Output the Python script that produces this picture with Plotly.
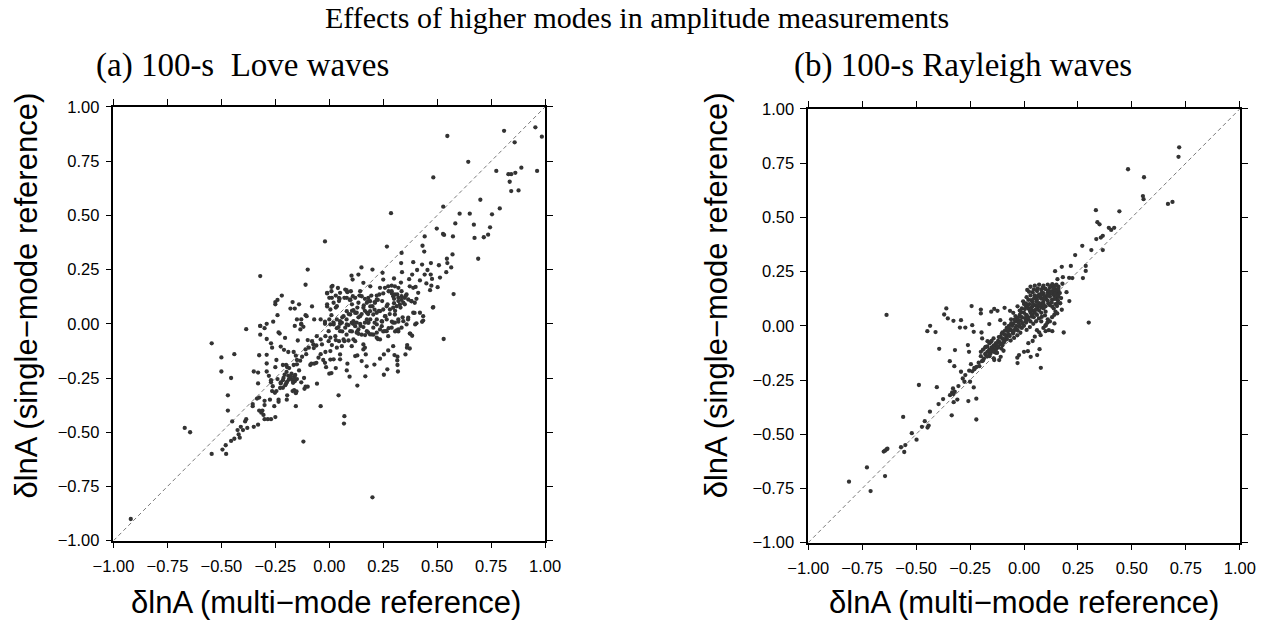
import plotly.graph_objects as go

# ---------------- data ----------------
tick_vals = [-1.0, -0.75, -0.5, -0.25, 0.0, 0.25, 0.5, 0.75, 1.0]
tick_text = ["\u22121.00", "\u22120.75", "\u22120.50", "\u22120.25", "0.00", "0.25", "0.50", "0.75", "1.00"]

# (a) Love waves: (multi-mode dlnA, single-mode dlnA)
love_ul = [(-0.02,0.38),(-0.32,0.22),(-0.10,0.25),(-0.11,0.18),(-0.01,0.14),(0.00,0.12),(0.01,0.17),
           (-0.22,0.13),(-0.24,0.11),(-0.25,0.09),(-0.17,0.10),(-0.14,0.09),(-0.18,0.07),(-0.16,0.07),
           (-0.08,0.08),(-0.01,0.09),(-0.01,0.08),(-0.24,0.04),(-0.26,0.01),(-0.32,-0.01),(-0.29,0.00),
           (-0.15,0.02),(-0.13,0.02),(-0.11,0.04),(-0.13,0.00),(-0.07,0.02),(-0.04,0.02),(-0.02,0.01),
           (0.00,0.02),(-0.02,0.00),(0.01,0.04),(-0.105,0.035),(-0.25,0.10)]
love_ll = [(-0.92,-0.90),(-0.67,-0.48),(-0.645,-0.50),(-0.545,-0.09),(-0.545,-0.60),(-0.50,-0.155),
           (-0.50,-0.22),(-0.495,-0.58),(-0.478,-0.60),(-0.48,-0.56),(-0.47,-0.33),(-0.47,-0.40),
           (-0.455,-0.25),(-0.455,-0.54),(-0.44,-0.53),(-0.44,-0.14),(-0.45,-0.45),(-0.425,-0.49),
           (-0.42,-0.51),(-0.415,-0.525),(-0.41,-0.475),(-0.39,-0.45),(-0.385,-0.44),(-0.38,-0.48),
           (-0.40,-0.49),(-0.385,-0.025),(-0.35,-0.475),(-0.33,-0.465),(-0.355,-0.37),(-0.355,-0.38),
           (-0.335,-0.345),(-0.325,-0.34),(-0.33,-0.275),(-0.35,-0.22),(-0.33,-0.225),(-0.325,-0.40),
           (-0.315,-0.41),(-0.31,-0.40),(-0.30,-0.375),(-0.305,-0.42),(-0.30,-0.44),(-0.30,-0.355),
           (-0.325,-0.145),(-0.32,-0.01),(-0.32,-0.05),(-0.29,-0.143),(-0.29,-0.183),(-0.28,-0.24),
           (-0.29,-0.22),(-0.27,-0.27),(-0.27,-0.26),(-0.285,-0.44),(-0.27,-0.44),(-0.25,-0.43),
           (-0.255,-0.38),(-0.235,-0.35),(-0.235,-0.36),(-0.275,-0.35),(-0.265,-0.31),(-0.245,-0.31),
           (-0.25,-0.20),(-0.245,-0.167),(-0.29,-0.07),(-0.30,-0.02),(-0.27,-0.09),(-0.265,-0.11),
           (-0.235,-0.04),(-0.23,-0.045),(-0.225,-0.105),(-0.21,-0.12),(-0.205,-0.065),(-0.19,-0.13),
           (-0.215,-0.19),(-0.20,-0.19),(-0.195,-0.20),(-0.175,-0.23),(-0.19,-0.24),(-0.18,-0.25),
           (-0.17,-0.26),(-0.16,-0.24),(-0.16,-0.265),(-0.15,-0.255),(-0.20,-0.275),(-0.225,-0.275),
           (-0.215,-0.26),(-0.215,-0.295),(-0.195,-0.33),(-0.197,-0.35),(-0.155,-0.32),(-0.17,-0.31),
           (-0.155,-0.38),(-0.13,-0.27),(-0.11,-0.29),(-0.115,-0.30),(-0.10,-0.29),(-0.117,-0.25),
           (-0.155,-0.147),(-0.165,-0.13),(-0.15,-0.167),(-0.135,-0.17),(-0.15,-0.187),(-0.14,-0.215),
           (-0.165,-0.19),(-0.126,-0.152),(-0.11,-0.118),(-0.107,-0.14),(-0.095,-0.11),(-0.10,-0.075),
           (-0.08,-0.08),(-0.074,-0.095),(-0.06,-0.10),(-0.072,-0.112),(-0.083,-0.184),(-0.088,-0.19),
           (-0.07,-0.184),(-0.06,-0.18),(-0.057,-0.276),(-0.04,-0.38),(-0.12,-0.543),(-0.05,-0.156),
           (-0.028,-0.167),(-0.02,-0.18),(-0.015,-0.20),(0.00,-0.23),(-0.018,-0.13),(0.005,-0.165),
           (-0.04,-0.14),(-0.034,-0.095),(-0.04,-0.072),(-0.018,-0.057),(-0.058,-0.057),(-0.134,-0.026),
           (-0.12,-0.014),(-0.13,-0.003),(-0.16,-0.01),(-0.146,-0.077)]
love_ll2 = [(-0.24,-0.255),(-0.225,-0.27),(-0.212,-0.25),(-0.207,-0.235),(-0.198,-0.222),(-0.186,-0.204),
            (-0.188,-0.258),(-0.178,-0.243),(-0.168,-0.272),(-0.163,-0.252),(-0.158,-0.236),
            (-0.196,-0.268),(-0.204,-0.283),(-0.163,-0.306),(-0.152,-0.312),(-0.228,-0.296),
            (-0.252,-0.318),(-0.262,-0.288)]
love_ur = [(0.547,0.866),(0.81,0.89),(0.955,0.906),(0.985,0.863),(0.859,0.837),(0.644,0.747),
           (0.482,0.675),(0.774,0.705),(0.89,0.72),(0.83,0.69),(0.843,0.69),(0.862,0.696),(0.963,0.705),
           (0.836,0.655),(0.843,0.612),(0.877,0.615),(0.70,0.572),(0.79,0.532),(0.528,0.54),(0.286,0.51),
           (0.604,0.508),(0.651,0.508),(0.754,0.505),(0.584,0.463),(0.67,0.457),(0.745,0.445),
           (0.498,0.439),(0.527,0.414),(0.532,0.41),(0.573,0.403),(0.673,0.396),(0.716,0.399),
           (0.736,0.411),(0.442,0.403),(0.267,0.356),(0.432,0.36),(0.44,0.333),(0.335,0.327),
           (0.571,0.32),(0.545,0.30),(0.69,0.30),(0.333,0.28),(0.389,0.284),(0.43,0.273),(0.471,0.28),
           (0.508,0.27),(0.547,0.28),(0.565,0.26),(0.542,0.238),(0.149,0.26),(0.20,0.25),(0.337,0.238),
           (0.407,0.248),(0.455,0.248),(0.384,0.227),(0.442,0.227),(0.47,0.227),(0.513,0.213),
           (0.103,0.222),(0.108,0.204),(0.135,0.227),(0.247,0.235),(0.25,0.204),(0.30,0.209),
           (0.332,0.19),(0.37,0.206),(0.42,0.20),(0.476,0.207),(0.45,0.186),(0.473,0.176),(0.40,0.17),
           (0.502,0.169),(0.467,0.155),(0.576,0.137),(0.482,0.077),(0.158,0.189),(0.19,0.173)]
love_core = [(-0.01,0.143),(0.012,0.12),(0.02,0.097),(0.005,0.066),(0.035,0.081),(0.05,0.143),
             (0.048,0.115),(0.074,0.158),(0.084,0.146),(0.10,0.15),(0.081,0.12),(0.097,0.112),
             (0.109,0.127),(0.143,0.15),(0.15,0.127),(0.135,0.097),(0.174,0.097),(0.181,0.12),
             (0.189,0.104),(0.20,0.081),(0.212,0.097),(0.22,0.112),(0.232,0.135),(0.235,0.166),
             (0.258,0.166),(0.273,0.173),(0.289,0.176),(0.304,0.173),(0.32,0.166),(0.289,0.15),
             (0.296,0.127),(0.304,0.135),(0.32,0.12),(0.335,0.127),(0.35,0.12),(0.358,0.135),
             (0.366,0.112),(0.381,0.104),(0.396,0.097),(0.404,0.115),(0.412,0.143),(0.373,0.173),
             (0.389,0.166),(0.343,0.097),(0.327,0.089),(0.312,0.081),(0.296,0.074),(0.281,0.066),
             (0.266,0.081),(0.25,0.066),(0.235,0.058),(0.22,0.051),(0.204,0.043),(0.189,0.058),
             (0.174,0.051),(0.158,0.074),(0.143,0.035),(0.127,0.051),(0.112,0.063),(0.097,0.043),
             (0.081,0.058),(0.066,0.035),(0.05,0.012),(0.035,0.02),(0.02,0.005),(0.005,-0.003),
             (0.081,-0.003),(0.112,0.012),(0.127,0.005),(0.174,0.02),(0.181,0.005),(0.22,0.02),
             (0.243,0.012),(0.266,0.02),(0.304,0.043),(0.32,0.02),(0.343,0.012),(0.366,0.028),
             (0.389,0.051),(0.42,0.051),(0.435,0.035),(0.404,0.002),(0.358,-0.003),(0.296,0.005),
             (0.258,0.035)]
love_core2 = [(0.015,0.175),(0.04,0.165),(0.08,0.155),(0.07,0.12),(0.095,0.11),(0.12,0.12),(0.14,0.13),
              (0.165,0.115),(0.18,0.105),(0.19,0.08),(0.21,0.10),(0.225,0.11),(0.25,0.14),(0.275,0.15),
              (0.29,0.14),(0.30,0.115),(0.32,0.105),(0.335,0.11),(0.35,0.09),(0.33,0.075),(0.305,0.06),
              (0.28,0.045),(0.26,0.035),(0.23,0.06),(0.21,0.065),(0.18,0.045),(0.165,0.06),(0.15,0.045),
              (0.135,0.03),(0.12,0.05),(0.105,0.06),(0.09,0.045),(0.08,0.02),(0.06,0.03),(0.05,0.0),
              (0.035,-0.02),(0.06,-0.035),(0.08,-0.05),(0.105,-0.035),(0.13,-0.035),(0.15,-0.05),
              (0.18,-0.04),(0.205,-0.05),(0.225,-0.07),(0.25,-0.035),(0.275,-0.02),(0.305,-0.035),
              (0.32,-0.035),(0.34,0.03),(0.365,0.02),(0.32,0.01),(0.29,0.01),(0.245,0.01),(0.21,0.005),
              (0.19,0.02),(0.165,0.005),(0.145,-0.01),(0.11,0.0),(0.03,-0.075),(0.045,-0.08),
              (0.07,-0.08),(0.12,-0.08),(0.165,-0.11),(0.03,0.075),(0.045,0.105),(0.03,0.13),
              (0.01,0.15),(0.045,0.12),(0.105,0.09),(0.13,0.075),(0.16,0.085),(0.195,0.13),(0.22,0.13),
              (0.245,0.105),(0.27,0.09),(0.30,0.095),(0.315,0.135),(0.335,0.15),(0.355,0.13),
              (0.38,0.105),(0.395,0.05),(0.435,0.015),(0.48,0.075),(0.375,-0.045),(0.36,-0.11)]
love_lr = [(0.53,-0.07),(0.043,-0.33),(0.07,-0.426),(0.068,-0.46),(0.20,-0.80),(0.13,-0.285),
           (0.167,-0.242),(0.094,-0.244),(0.081,-0.215),(0.01,-0.227),(0.03,-0.204),(0.084,-0.184),
           (0.173,-0.196),(0.209,-0.188),(0.253,-0.235),(0.269,-0.21),(0.318,-0.22),(0.316,-0.19),
           (0.315,-0.169),(0.235,-0.161),(0.253,-0.141),(0.273,-0.123),(0.302,-0.144),(0.316,-0.152),
           (0.353,-0.141),(0.296,-0.103),(0.361,-0.098),(0.373,-0.114),(0.373,-0.045),(0.384,-0.055),
           (0.398,-0.003),(0.43,0.009),(0.312,-0.03),(0.273,-0.057),(0.235,-0.072),(0.22,-0.064),
           (0.197,-0.049),(0.166,-0.052),(0.135,-0.046),(0.112,-0.072),(0.089,-0.077),(0.066,-0.072),
           (0.058,-0.103),(0.035,-0.11),(0.012,-0.098),(0.005,-0.126),(0.05,-0.141),(0.05,-0.164),
           (0.02,-0.164),(0.12,-0.149),(0.13,-0.146),(0.158,-0.118),(0.169,-0.141),(0.15,-0.172),
           (0.104,-0.103),(0.158,-0.095),(0.189,-0.049),(0.02,-0.003),(0.043,-0.015),(0.058,0.005),
           (0.074,-0.018),(0.089,-0.006),(0.104,0.005),(0.12,-0.011),(0.135,-0.026),(0.143,0.0),
           (0.158,-0.015),(0.174,-0.034),(0.181,0.005),(0.204,-0.018),(0.22,-0.003),(0.235,-0.026),
           (0.243,-0.011),(0.266,-0.034),(0.289,-0.018),(0.304,0.005),(0.32,-0.026),(0.335,-0.018),
           (0.05,-0.034),(0.097,-0.034),(0.127,-0.041),(0.22,-0.041),(0.258,-0.034),(-0.003,-0.034),
           (0.005,-0.064),(0.028,-0.057),(-0.003,-0.08)]

# (b) Rayleigh waves
rayl_tail = [(-0.811,-0.719),(-0.728,-0.653),(-0.711,-0.762),(-0.644,-0.693),(-0.65,-0.58),
             (-0.644,-0.576),(-0.637,-0.57),(-0.633,-0.567),(-0.57,-0.56),(-0.555,-0.582),
             (-0.55,-0.55),(-0.52,-0.495),(-0.498,-0.525),(-0.56,-0.42),(-0.473,-0.466),
             (-0.46,-0.44),(-0.447,-0.469),(-0.442,-0.46),(-0.487,-0.273),(-0.436,-0.396),
             (-0.637,0.05),(-0.343,-0.32),(-0.333,-0.307),(-0.327,-0.315),(-0.321,-0.304),
             (-0.309,-0.34),(-0.326,-0.352)]
rayl_upper = [(0.719,0.823),(0.716,0.779),(0.482,0.722),(0.556,0.685),(0.551,0.598),(0.554,0.584),
              (0.667,0.562),(0.688,0.571),(0.333,0.533),(0.442,0.528),(0.34,0.478),(0.35,0.468),
              (0.393,0.452),(0.404,0.442),(0.418,0.452),(0.335,0.40),(0.356,0.407),(0.365,0.415),
              (0.27,0.369),(0.312,0.349),(0.365,0.349),(0.237,0.326),(0.175,0.272),(0.217,0.276),
              (0.286,0.276),(0.286,0.253),(0.144,0.252),(0.155,0.215),(0.18,0.224),(0.209,0.221),
              (0.224,0.22),(0.273,0.22),(0.178,0.194),(0.21,0.114),(0.197,0.155),(0.175,0.074),
              (0.138,0.08)]
rayl_mid = [(0.30,0.015),(0.184,-0.031),(0.078,-0.194),(-0.03,-0.172),(-0.243,0.091),(-0.36,0.08),
            (-0.37,0.052),(-0.353,0.034),(-0.327,0.023),(-0.292,0.026),(-0.435,0.0),(-0.448,-0.025),
            (-0.41,-0.029),(-0.297,-0.008),(-0.272,-0.008),(-0.24,0.003),(-0.20,0.075),(-0.20,0.057),
            (-0.152,0.065),(-0.138,0.078),(-0.123,0.069),(-0.09,0.083),(-0.065,0.069),(-0.11,0.026),
            (-0.161,0.008),(-0.197,-0.031),(-0.194,-0.058),(-0.233,-0.028),(-0.393,-0.106),
            (-0.32,-0.112),(-0.26,-0.089),(-0.255,-0.12),(-0.344,-0.163),(-0.323,-0.186),
            (-0.246,-0.177),(-0.23,-0.194),(-0.254,-0.207),(-0.404,-0.283),(-0.329,-0.289),
            (-0.375,-0.338),(-0.396,-0.361),(-0.304,-0.278),(-0.284,-0.243),(-0.276,-0.258),
            (-0.272,-0.227),(-0.25,-0.258),(-0.233,-0.284),(-0.221,-0.336),(-0.258,-0.347),
            (-0.221,-0.432),(-0.335,-0.413),(-0.292,-0.212),(-0.207,-0.186),(-0.195,-0.163),
            (-0.177,-0.135),(-0.161,-0.112),(-0.146,-0.101),(-0.131,-0.089),(-0.177,-0.097),
            (-0.154,-0.074),(-0.141,-0.058),(-0.115,-0.074),(-0.10,-0.058),(-0.084,-0.043),
            (-0.169,-0.071),(-0.131,-0.124),(-0.108,-0.143),(-0.115,-0.158),(-0.138,-0.158),
            (0.0,-0.12),(0.018,-0.117),(-0.023,-0.135),(0.031,-0.143),(0.061,-0.135),(0.072,-0.108),
            (-0.031,-0.147),(0.077,-0.043),(0.10,-0.025),(0.115,-0.02),(0.131,-0.025),(0.108,0.014),
            (0.10,0.003),(0.141,0.011),(0.131,0.088),(0.146,0.065),(0.154,0.057)]
rayl_core = [(0.03,0.18),(0.05,0.185),(0.07,0.19),(0.09,0.185),(0.11,0.19),(0.13,0.185),(0.15,0.19),
             (0.16,0.18),(0.14,0.17),(0.12,0.175),(0.10,0.17),(0.08,0.165),(0.06,0.16),(0.04,0.155),
             (0.03,0.14),(0.05,0.14),(0.07,0.145),(0.09,0.15),(0.11,0.155),(0.13,0.16),(0.15,0.165),
             (0.155,0.15),(0.14,0.14),(0.12,0.135),(0.10,0.13),(0.08,0.125),(0.06,0.12),(0.04,0.11),
             (0.07,0.105),(0.09,0.11),(0.11,0.115),(0.13,0.12),(0.15,0.125),(0.16,0.135),(0.145,0.10),
             (0.12,0.095),(0.10,0.09),(0.08,0.085),(0.06,0.08),(0.05,0.095),(0.02,0.12),(0.015,0.165),
             (0.025,0.10),(0.035,0.085),(0.155,0.105),(0.16,0.16),(0.135,0.145),(0.115,0.14),
             (0.095,0.135),(0.075,0.13),
             (0.04,0.07),(0.03,0.06),(0.02,0.08),(0.01,0.05),(0.0,0.06),(-0.01,0.04),(-0.02,0.05),
             (-0.03,0.03),(-0.04,0.02),(-0.05,0.01),(-0.06,0.03),(-0.07,0.0),(-0.08,-0.01),(-0.09,0.01),
             (0.01,0.09),(0.0,0.10),(-0.01,0.08),(-0.02,0.07),(-0.03,0.09),(-0.05,0.06),(-0.04,0.045),
             (0.02,0.03),(0.03,0.02),(0.01,0.015),(0.0,0.0),(-0.01,-0.01),(-0.02,0.0),(-0.03,-0.02),
             (-0.04,-0.01),(-0.05,-0.03),(-0.06,-0.02),(-0.07,-0.04),(-0.08,-0.05),(0.045,0.04),
             (0.05,0.06),(0.06,0.05),(0.07,0.07),(0.08,0.06),(0.09,0.08),(0.10,0.065),(0.035,0.045),
             (-0.015,0.025),(0.005,0.035),(-0.025,0.015),(-0.035,0.0),(-0.045,-0.02),(-0.055,0.0),
             (-0.065,-0.015),(-0.075,-0.025),(-0.10,-0.03),(0.06,0.095),(0.04,0.09),
             (-0.09,-0.04),(-0.10,-0.06),(-0.11,-0.05),(-0.12,-0.07),(-0.13,-0.08),(-0.14,-0.09),
             (-0.15,-0.10),(-0.16,-0.11),(-0.17,-0.12),(-0.18,-0.13),(-0.12,-0.10),(-0.13,-0.11),
             (-0.14,-0.12),(-0.11,-0.08),(-0.10,-0.09),(-0.09,-0.07),(-0.085,-0.06),(-0.15,-0.07),
             (-0.16,-0.08),(-0.17,-0.095),(-0.19,-0.11),(-0.20,-0.14),(-0.19,-0.16),(-0.21,-0.17),
             (-0.22,-0.19),(-0.23,-0.20),(-0.24,-0.21),(-0.20,-0.12),(-0.18,-0.10),(-0.125,-0.125),
             (-0.105,-0.105),(-0.095,-0.115),(-0.16,-0.14),(-0.14,-0.15),(-0.155,-0.125),
             (0.06,-0.02),(0.07,-0.03),(0.09,-0.01),(0.11,0.03),(0.12,0.02),(0.13,0.04),(0.14,0.05),
             (0.08,0.02),(0.10,0.0),(0.05,-0.05),(0.04,-0.07),(0.02,-0.08)]
rayl_core2 = [(0.013,0.047),(0.027,0.071),(0.042,0.098),(0.058,0.112),(0.066,0.138),(0.083,0.152),
              (0.097,0.171),(0.112,0.162),(0.124,0.181),(0.138,0.176),(0.147,0.158),(0.152,0.142),
              (0.118,0.147),(0.104,0.123),(0.087,0.104),(0.072,0.088),(0.053,0.073),(0.038,0.052),
              (0.021,0.038),(0.007,0.021),(-0.008,0.012),(-0.022,-0.004),(-0.037,-0.015),
              (-0.051,-0.036),(-0.066,-0.047),(-0.079,-0.061),(-0.094,-0.078),(-0.108,-0.086),
              (-0.121,-0.094),(-0.133,-0.107),(-0.146,-0.116),(-0.158,-0.131),(-0.171,-0.142),
              (-0.186,-0.151),(-0.028,0.038),(-0.044,0.028),(-0.059,0.012),(-0.073,-0.008),
              (-0.088,-0.022),(-0.103,-0.037),(-0.117,-0.052),(-0.013,0.063),(0.004,0.077),
              (0.018,0.094),(0.033,0.118),(0.047,0.127),(0.062,0.134),(0.078,0.141),(0.093,0.127),
              (0.107,0.141),(0.126,0.156),(0.143,0.151),(0.158,0.171),(0.148,0.186),(0.131,0.192),
              (0.086,0.176),(0.064,0.172),(0.046,0.168),(0.023,0.157),(0.012,0.132),(-0.004,0.113),
              (0.009,0.103),(0.076,0.097),(0.091,0.096),(0.113,0.103),(0.128,0.108),(0.141,0.124),
              (0.157,0.118),(0.153,0.091),(0.168,0.104),(0.172,0.128),(0.166,0.151),(0.069,0.034),
              (0.082,0.041),(0.097,0.048),(0.056,0.021),(0.043,0.009),(-0.017,-0.032),(-0.031,-0.044),
              (-0.046,-0.056),(-0.062,-0.068),(0.012,-0.019),(0.027,-0.006)]

love_pts = love_ul + love_ll + love_ll2 + love_ur + love_core + love_core2 + love_lr
rayl_pts = rayl_tail + rayl_upper + rayl_mid + rayl_core + rayl_core2

# ---------------- figure ----------------
DOT = "#333333"
SANS = "Liberation Sans, Arial, Helvetica, sans-serif"
SERIF = "Liberation Serif, Times New Roman, serif"

# The photographed page appears offset and scaled by ~0.974; the figure is laid out
# in its own pixel space so that it lands on the target window positions.
W, H = 1290, 640
SX, OX = 0.9745, 17.2
SY, OY = 0.9725, 7.0


def fx(x):  # target window x -> paper fraction
    return ((x - OX) / SX) / W


def fy(y):  # target window y -> paper fraction
    return 1 - ((y - OY) / SY) / H


fig = go.Figure()
for pts, xa, ya in [(love_pts, "x", "y"), (rayl_pts, "x2", "y2")]:
    fig.add_trace(go.Scatter(x=[-1, 1], y=[-1, 1], mode="lines", xaxis=xa, yaxis=ya,
                             line=dict(color="#7a7a7a", width=1, dash="4px,3px"),
                             hoverinfo="skip", showlegend=False))
    fig.add_trace(go.Scatter(x=[p[0] for p in pts], y=[p[1] for p in pts], mode="markers",
                             xaxis=xa, yaxis=ya, showlegend=False,
                             marker=dict(size=4.3, color=DOT, line=dict(width=0))))

axis_common = dict(range=[-1, 1], tickvals=tick_vals, ticktext=tick_text, ticks="outside",
                   ticklen=6, tickwidth=1, tickcolor="black", showline=True, linecolor="black",
                   linewidth=1.5, mirror="ticks", showgrid=False, zeroline=False,
                   tickfont=dict(family=SANS, size=16.5, color="black"))

fig.update_layout(
    width=W, height=H, margin=dict(l=0, r=0, t=0, b=0),
    paper_bgcolor="white", plot_bgcolor="white", showlegend=False,
    xaxis=dict(domain=[fx(110), fx(543)], anchor="y", ticklabelstandoff=4, **axis_common),
    yaxis=dict(domain=[fy(539), fy(105)], anchor="x", ticklabelstandoff=3, **axis_common),
    xaxis2=dict(domain=[fx(807), fx(1240)], anchor="y2", ticklabelstandoff=4, **axis_common),
    yaxis2=dict(domain=[fy(541), fy(107)], anchor="x2", ticklabelstandoff=3, **axis_common),
)

ann = []
ann.append(dict(text="Effects of higher modes in amplitude measurements", x=fx(635), y=fy(16),
                xref="paper", yref="paper", xanchor="center", yanchor="middle", showarrow=False,
                font=dict(family=SERIF, size=30, color="black")))
ann.append(dict(text="(a) 100-s  Love waves", x=fx(90), y=fy(64), xref="paper", yref="paper",
                xanchor="left", yanchor="middle", showarrow=False,
                font=dict(family=SERIF, size=33, color="black")))
ann.append(dict(text="(b) 100-s Rayleigh waves", x=fx(791), y=fy(64), xref="paper", yref="paper",
                xanchor="left", yanchor="middle", showarrow=False,
                font=dict(family=SERIF, size=33, color="black")))
for cx in [323, 1023]:
    ann.append(dict(text="\u03b4lnA (multi\u2212mode reference)", x=fx(cx), y=fy(601), xref="paper",
                    yref="paper", xanchor="center", yanchor="middle", showarrow=False,
                    font=dict(family=SANS, size=31, color="black")))
for cx in [23, 715]:
    ann.append(dict(text="\u03b4lnA (single\u2212mode reference)", x=fx(cx), y=fy(294), xref="paper",
                    yref="paper", xanchor="center", yanchor="middle", showarrow=False, textangle=-90,
                    font=dict(family=SANS, size=31, color="black")))
fig.update_layout(annotations=ann)

fig.write_html("out.html")
